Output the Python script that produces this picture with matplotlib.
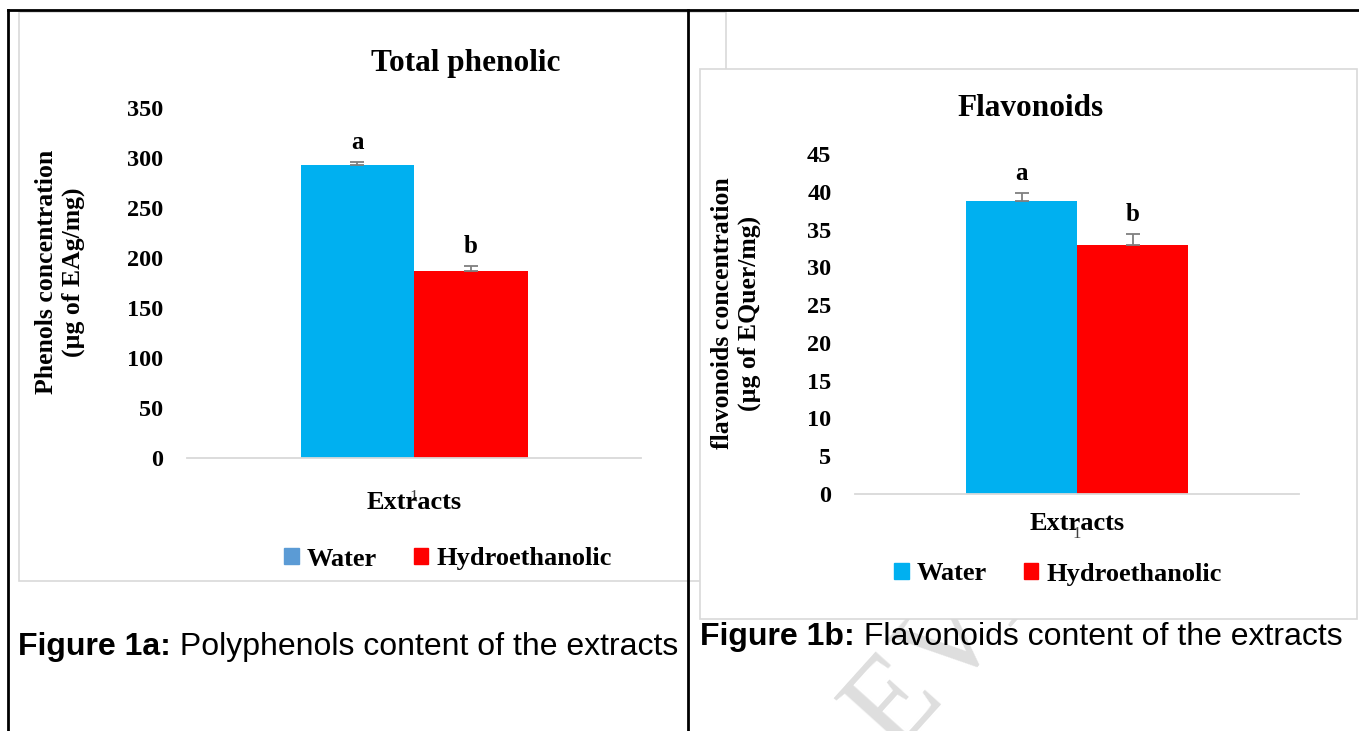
import numpy as np
import matplotlib.pyplot as plt
from matplotlib.patches import Patch, Rectangle
from matplotlib.lines import Line2D

# data
extracts = ["Water", "Hydroethanolic"]
phenol_vals = [293, 187]
phenol_err = [3, 5]
phenol_letters = ["a", "b"]
flav_vals = [38.8, 32.9]
flav_err = [1.0, 1.5]
flav_letters = ["a", "b"]
phenol_ticks = [0, 50, 100, 150, 200, 250, 300, 350]
flav_ticks = [0, 5, 10, 15, 20, 25, 30, 35, 40, 45]

bar_colors = ["#00B0F0", "#FF0000"]
legend_colors_a = ["#5B9BD5", "#FF0000"]  # left legend uses a different blue
W, H = 1359, 731
serif = "Liberation Serif"
sans = "Liberation Sans"

fig = plt.figure(figsize=(W / 100, H / 100), dpi=100)
fig.patch.set_facecolor("white")


def px_axes(l, t, r, b):
    return fig.add_axes([l / W, 1 - b / H, (r - l) / W, (b - t) / H])


def fig_rect(l, t, r, b, **kw):
    fig.patches.append(Rectangle((l / W, 1 - b / H), (r - l) / W, (b - t) / H,
                                 transform=fig.transFigure, **kw))


def fig_line(xs, ys, **kw):
    fig.add_artist(Line2D([x / W for x in xs], [1 - y / H for y in ys],
                          transform=fig.transFigure, **kw))


# watermark on the page, under the chart images (only "EV.." shows)
fig.text(795 / W, 1 - 868 / H, "R  EVIEW", ha="left", va="baseline", rotation=48,
         fontsize=92, family=serif, color="#DEDEDE", zorder=0.05,
         rotation_mode="anchor")

# chart frames (left one sits behind the right one)
fig_rect(19, 12, 726, 581, facecolor="white", edgecolor="#D9D9D9", lw=1.2, zorder=0.1)
fig_rect(700, 69, 1357, 619, facecolor="white", edgecolor="#D9D9D9", lw=1.2, zorder=1)

# table borders
fig_line([8, 1359], [10, 10], color="black", lw=2, zorder=5)
fig_line([8, 8], [10, 731], color="black", lw=2, zorder=5)
fig_line([688, 688], [10, 731], color="black", lw=2, zorder=5)


def bar_panel(ax, vals, errs, letters, ticks, ylab, lab_xy, xlab_y):
    x = np.array([1.0])
    w = 0.25
    for i, (v, e) in enumerate(zip(vals, errs)):
        xi = x + (i - 0.5) * w
        ax.bar(xi, [v], width=w, color=bar_colors[i], zorder=2)
        ax.errorbar(xi, [v], yerr=[[0], [e]], fmt="none", ecolor="#7F7F7F",
                    elinewidth=1.3, capsize=5, capthick=1.3, zorder=3)
        ax.annotate(letters[i], (xi[0], v + e), xytext=(0, 14),
                    textcoords="offset points", ha="center", va="center",
                    fontsize=18, fontweight="bold", family=serif)
    ax.set_xlim(0.5, 1.5)
    ax.set_ylim(ticks[0], ticks[-1])
    ax.set_yticks(ticks)
    ax.set_yticklabels([str(t) for t in ticks], fontsize=17.5, fontweight="bold",
                       family=serif)
    ax.set_xticks(x)
    ax.set_xticklabels(["1"], fontsize=12, family=serif, color="#404040")
    ax.tick_params(axis="y", length=0, pad=17)
    ax.tick_params(axis="x", length=0, pad=23)
    for s in ["top", "right", "left"]:
        ax.spines[s].set_visible(False)
    ax.spines["bottom"].set_color("#D9D9D9")
    ax.spines["bottom"].set_linewidth(1.3)
    ax.set_facecolor("none")
    ax.set_ylabel(ylab, fontsize=18.5, fontweight="bold", family=serif,
                  linespacing=1.2)
    ax.yaxis.set_label_coords(*lab_xy)
    ax.yaxis.label.set_va("center")
    ax.set_xlabel("Extracts", fontsize=19, fontweight="bold", family=serif)
    ax.xaxis.set_label_coords(0.5, xlab_y)
    ax.xaxis.label.set_va("center")


leg_kw = dict(loc="center", ncol=2, frameon=False, handlelength=0.55,
              handleheight=0.55, handletextpad=0.3, columnspacing=1.4,
              prop={"family": serif, "weight": "bold", "size": 19})

ax1 = px_axes(187, 108.5, 641, 457.5)
ax1.set_zorder(2)
bar_panel(ax1, phenol_vals, phenol_err, phenol_letters, phenol_ticks,
          "Phenols concentration\n(\u00b5g of EAg/mg)", (-0.28, 0.531), -0.130)
ax1.legend(handles=[Patch(color=c, label=l) for c, l in zip(legend_colors_a, extracts)],
           bbox_to_anchor=((448 - 187) / 454, (457.5 - 559) / 349), **leg_kw)

ax2 = px_axes(855, 154, 1299, 494)
ax2.set_zorder(3)
bar_panel(ax2, flav_vals, flav_err, flav_letters, flav_ticks,
          "flavonoids concentration\n(\u00b5g of EQuer/mg)", (-0.268, 0.532), -0.088)
ax2.legend(handles=[Patch(color=c, label=l) for c, l in zip(bar_colors, extracts)],
           bbox_to_anchor=((1058 - 855) / 444, (494 - 574) / 340), **leg_kw)

# chart titles
fig.text(466 / W, 1 - 63 / H, "Total phenolic", ha="center", va="center",
         fontsize=22.5, fontweight="bold", family=serif, zorder=6)
fig.text(1031 / W, 1 - 108 / H, "Flavonoids", ha="center", va="center",
         fontsize=22.5, fontweight="bold", family=serif, zorder=6)

# captions, bold prefix then regular text
renderer = fig.canvas.get_renderer()
for x0, yc, head, rest in [(18, 647, "Figure 1a:", " Polyphenols content of the extracts"),
                           (700, 637, "Figure 1b:", " Flavonoids content of the extracts")]:
    t = fig.text(x0 / W, 1 - yc / H, head, ha="left", va="center", fontsize=23,
                 fontweight="bold", family=sans, zorder=6)
    bb = t.get_window_extent(renderer)
    fig.text(bb.x1 / W, 1 - yc / H, rest, ha="left", va="center", fontsize=23,
             family=sans, zorder=6)

fig.savefig("out.png", dpi=100)
